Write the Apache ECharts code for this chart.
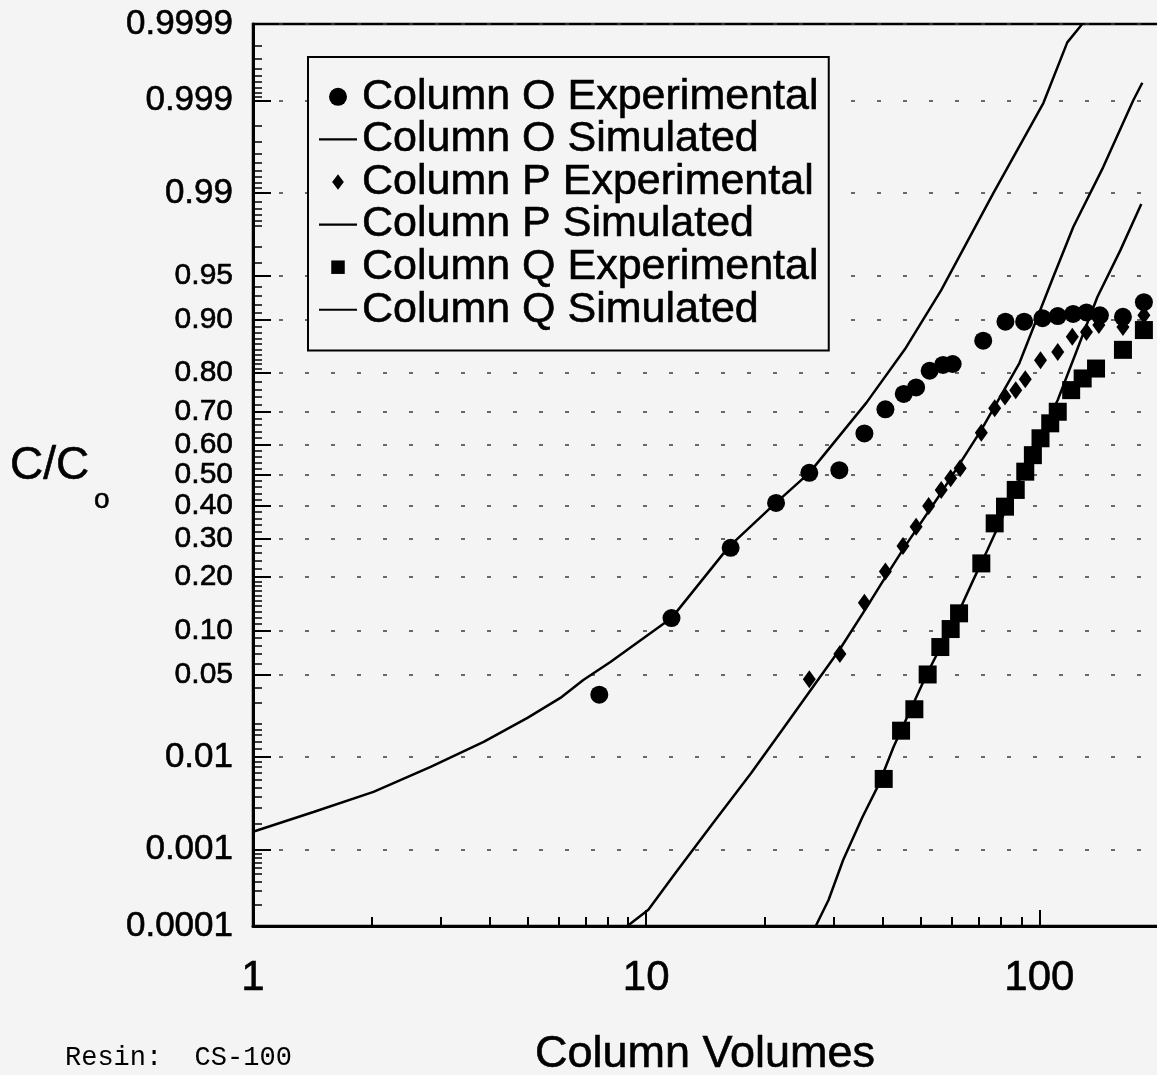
<!DOCTYPE html>
<html>
<head>
<meta charset="utf-8">
<script src="https://cdn.jsdelivr.net/npm/echarts@6.0.0/dist/echarts.min.js"></script>
<style>
  html, body { margin: 0; padding: 0; background: #f4f4f4; }
  #chart { width: 1157px; height: 1075px; }
</style>
</head>
<body>
<div id="chart"></div>
<script>
// ---- Breakthrough data: column volumes vs. C/Co ----
const oExpCV = [7.6, 11.6, 16.4, 21.4, 26.0, 31.0, 35.9, 40.6, 45.2, 48.6, 52.6, 56.9, 60.2, 72.0, 82.0, 91.5, 101.9, 111.4, 121.9, 131.8, 142.6, 163.2, 184.5];
const oExpC  = [0.035, 0.119, 0.274, 0.409, 0.507, 0.516, 0.634, 0.706, 0.748, 0.765, 0.805, 0.818, 0.820, 0.866, 0.897, 0.897, 0.902, 0.905, 0.908, 0.910, 0.906, 0.904, 0.923];

const oSimCV = [1.00, 1.425, 2.025, 2.83, 3.86, 4.99, 6.05, 6.92, 8.11, 11.6, 16.2, 21.2, 26.0, 36.3, 45.5, 56.3, 76.4, 102.4, 117.8, 128.6];
const oSimC  = [0.00163, 0.00273, 0.00449, 0.00804, 0.01387, 0.0226, 0.033, 0.0455, 0.0616, 0.119, 0.276, 0.405, 0.507, 0.724, 0.850, 0.9364, 0.98996, 0.99892, 0.99982, 0.9999];

const pExpCV = [26.0, 31.1, 35.9, 40.6, 45.0, 48.6, 52.3, 56.3, 59.5, 62.9, 71.2, 77.0, 81.8, 87.1, 92.1, 100.7, 111.4, 121.3, 131.8, 141.7, 163.2, 184.5];
const pExpC  = [0.046, 0.070, 0.146, 0.213, 0.279, 0.335, 0.399, 0.451, 0.489, 0.522, 0.636, 0.709, 0.741, 0.758, 0.785, 0.828, 0.845, 0.873, 0.881, 0.892, 0.889, 0.906];

const pSimCV = [8.96, 10.13, 11.87, 14.8, 18.5, 22.2, 26.0, 31.0, 36.3, 40.6, 45.4, 56.9, 71.2, 89.0, 108.5, 122.0, 145.4, 173.4, 182.8];
const pSimC  = [0.0001, 0.000168, 0.000517, 0.00206, 0.0070, 0.0178, 0.0368, 0.0745, 0.1365, 0.200, 0.276, 0.451, 0.645, 0.822, 0.9487, 0.9796, 0.99444, 0.99900, 0.99939];

const qExpCV = [40.2, 44.5, 48.1, 52.0, 56.0, 59.5, 62.5, 71.2, 77.0, 81.8, 87.1, 92.1, 96.3, 100.7, 106.6, 111.4, 120.5, 128.9, 139.4, 163.2, 184.5];
const qExpC  = [0.0061, 0.0175, 0.0267, 0.050, 0.078, 0.102, 0.127, 0.233, 0.345, 0.397, 0.451, 0.511, 0.565, 0.619, 0.665, 0.699, 0.758, 0.787, 0.810, 0.849, 0.884];

const qSimCV = [27.0, 29.1, 31.7, 35.5, 39.0, 42.6, 51.9, 62.2, 67.9, 73.8, 89.0, 111.4, 140.5, 160.7, 181.7];
const qSimC  = [0.0001, 0.000229, 0.00075, 0.0024, 0.0053, 0.0125, 0.0513, 0.1276, 0.193, 0.268, 0.484, 0.732, 0.929, 0.968, 0.9873];

// ---- Axis ticks ----
const xTickCV  = [1, 10, 100];
const xMinorCV = [2, 3, 4, 5, 6, 7, 8, 9, 20, 30, 40, 50, 60, 70, 80, 90, 200];
const xMaxCV   = 210;

const yTickLabels = ['0.0001', '0.001', '0.01', '0.05', '0.10', '0.20', '0.30', '0.40', '0.50',
                     '0.60', '0.70', '0.80', '0.90', '0.95', '0.99', '0.999', '0.9999'];
const yTickProbs  = [0.0001, 0.001, 0.01, 0.05, 0.10, 0.20, 0.30, 0.40, 0.50,
                     0.60, 0.70, 0.80, 0.90, 0.95, 0.99, 0.999, 0.9999];
const yLargeLabels = ['0.0001', '0.001', '0.01', '0.99', '0.999', '0.9999'];
const yMinorProbs = [
  0.0002, 0.0003, 0.0004, 0.0005, 0.0006, 0.0007, 0.0008, 0.0009,
  0.002, 0.003, 0.004, 0.005, 0.006, 0.007, 0.008, 0.009,
  0.012, 0.014, 0.016, 0.018, 0.02, 0.03, 0.04,
  0.06, 0.07, 0.08, 0.09,
  0.11, 0.12, 0.13, 0.14, 0.15, 0.16, 0.17, 0.18, 0.19,
  0.22, 0.24, 0.26, 0.28, 0.32, 0.34, 0.36, 0.38,
  0.42, 0.44, 0.46, 0.48, 0.52, 0.54, 0.56, 0.58,
  0.62, 0.64, 0.66, 0.68, 0.72, 0.74, 0.76, 0.78,
  0.81, 0.82, 0.83, 0.84, 0.85, 0.86, 0.87, 0.88, 0.89,
  0.91, 0.92, 0.93, 0.94, 0.96, 0.97, 0.98, 0.982, 0.984, 0.986, 0.988,
  0.991, 0.992, 0.993, 0.994, 0.995, 0.996, 0.997, 0.998,
  0.9991, 0.9992, 0.9993, 0.9994, 0.9995, 0.9996, 0.9997, 0.9998
];

// Inverse standard normal CDF (Acklam), used for the probability-scale axis
function probit(p) {
  const a = [-3.969683028665376e+01, 2.209460984245205e+02, -2.759285104469687e+02,
             1.383577518672690e+02, -3.066479806614716e+01, 2.506628277459239e+00];
  const b = [-5.447609879822406e+01, 1.615858368580409e+02, -1.556989798598866e+02,
             6.680131188771972e+01, -1.328068155922803e+01];
  const c = [-7.784894002430293e-03, -3.223964580411365e-01, -2.400758277161838e+00,
             -2.549732539343734e+00, 4.374664141464968e+00, 2.938163982698783e+00];
  const d = [7.784695709041462e-03, 3.224671290700398e-01, 2.445134137142996e+00,
             3.754408661907416e+00];
  const pl = 0.02425;
  let q, r;
  if (p < pl) {
    q = Math.sqrt(-2 * Math.log(p));
    return (((((c[0]*q+c[1])*q+c[2])*q+c[3])*q+c[4])*q+c[5]) / ((((d[0]*q+d[1])*q+d[2])*q+d[3])*q+1);
  }
  if (p <= 1 - pl) {
    q = p - 0.5; r = q * q;
    return (((((a[0]*r+a[1])*r+a[2])*r+a[3])*r+a[4])*r+a[5])*q / (((((b[0]*r+b[1])*r+b[2])*r+b[3])*r+b[4])*r+1);
  }
  q = Math.sqrt(-2 * Math.log(1 - p));
  return -(((((c[0]*q+c[1])*q+c[2])*q+c[3])*q+c[4])*q+c[5]) / ((((d[0]*q+d[1])*q+d[2])*q+d[3])*q+1);
}

// x: log10 of column volumes; y: normal probability of C/Co
const toPoints = (cv, c) => cv.map((v, i) => [Math.log10(v), probit(c[i])]);

const yMajorZ = yTickProbs.map(probit);
const yMinorZ = yMinorProbs.map(probit);
const yMin = yMajorZ[0];
const yMax = yMajorZ[yMajorZ.length - 1];
const xMajor = xTickCV.map(Math.log10);
const xMinor = xMinorCV.map(Math.log10);
const xMax = Math.log10(xMaxCV);

const FONT = '"Liberation Sans", Arial, Helvetica, sans-serif';
const INK = '#000';
const LINE_ICON = 'path://M0,0L40,0L40,2.2L0,2.2Z';
// slight stroke so the type reads with a heavier weight
const HEAVY = { textBorderColor: INK, textBorderWidth: 0.6 };

function yLabel(v) {
  let best = 0;
  yMajorZ.forEach((z, i) => { if (Math.abs(z - v) < Math.abs(yMajorZ[best] - v)) best = i; });
  const t = yTickLabels[best];
  return (yLargeLabels.indexOf(t) >= 0 ? '{big|' : '{mid|') + t + '}';
}

const chart = echarts.init(document.getElementById('chart'), null, { renderer: 'canvas' });

const simLine = (name, cv, c) => ({
  name, type: 'line', data: toPoints(cv, c),
  symbol: 'none', showSymbol: false, smooth: false, clip: true,
  lineStyle: { color: INK, width: 2.5 }, itemStyle: { color: INK, opacity: 1 }
});

const expScatter = (name, cv, c, symbol, size) => ({
  name, type: 'scatter', data: toPoints(cv, c),
  symbol, symbolSize: size, itemStyle: { color: INK, opacity: 1 }
});

const option = {
  animation: false,
  backgroundColor: '#f4f4f4',
  textStyle: { fontFamily: FONT, color: INK },
  grid: {
    left: 253, right: -9, top: 24, bottom: 149,
    show: true, borderColor: INK, borderWidth: 2.5, backgroundColor: 'transparent',
    outerBoundsMode: 'none', containLabel: false
  },
  legend: {
    orient: 'vertical',
    left: 308, top: 57,
    padding: [18, 10, 19, 11],
    itemWidth: 38, itemHeight: 18, itemGap: -1,
    borderColor: INK, borderWidth: 2,
    backgroundColor: '#f4f4f4',
    selectedMode: false,
    textStyle: Object.assign({ fontSize: 43, fontFamily: FONT, color: INK }, HEAVY),
    data: [
      { name: 'Column O Experimental', icon: 'circle', itemStyle: { color: INK, opacity: 1 } },
      { name: 'Column O Simulated', icon: LINE_ICON, itemStyle: { color: INK, opacity: 1 } },
      { name: 'Column P Experimental', icon: 'path://M0,0M20,20M10,1.5L16.5,10L10,18.5L3.5,10Z', itemStyle: { color: INK, opacity: 1 } },
      { name: 'Column P Simulated', icon: LINE_ICON, itemStyle: { color: INK, opacity: 1 } },
      { name: 'Column Q Experimental', icon: 'path://M0,0M20,20M2.5,2.5L17.5,2.5L17.5,17.5L2.5,17.5Z', itemStyle: { color: INK, opacity: 1 } },
      { name: 'Column Q Simulated', icon: LINE_ICON, itemStyle: { color: INK, opacity: 1 } }
    ]
  },
  xAxis: [
    {
      type: 'value', min: 0, max: xMax, position: 'bottom',
      axisLine: { show: true, onZero: false, lineStyle: { color: INK, width: 3 } },
      axisTick: { show: true, inside: true, length: 16, customValues: xMajor, lineStyle: { color: INK, width: 2 } },
      axisLabel: Object.assign({
        customValues: xMajor, margin: 31, fontSize: 42, color: INK, fontFamily: FONT,
        formatter: v => String(Math.round(Math.pow(10, v)))
      }, HEAVY),
      splitLine: { show: false }
    },
    {
      type: 'value', min: 0, max: xMax, position: 'bottom',
      axisLine: { show: false, onZero: false },
      axisTick: { show: true, inside: true, length: 9, customValues: xMinor, lineStyle: { color: INK, width: 2 } },
      axisLabel: { show: false },
      splitLine: { show: false }
    }
  ],
  yAxis: [
    {
      type: 'value', min: yMin, max: yMax, position: 'left',
      axisLine: { show: true, onZero: false, lineStyle: { color: INK, width: 3 } },
      axisTick: { show: true, inside: true, length: 18, customValues: yMajorZ, lineStyle: { color: INK, width: 2 } },
      axisLabel: {
        customValues: yMajorZ, margin: 20, color: INK, fontFamily: FONT,
        formatter: yLabel,
        rich: {
          big: Object.assign({ fontSize: 35, color: INK, fontFamily: FONT }, HEAVY),
          mid: Object.assign({ fontSize: 30, color: INK, fontFamily: FONT }, HEAVY)
        }
      },
      splitLine: { show: true, lineStyle: { color: '#3a3a3a', type: [4, 22], width: 1.5 } }
    },
    {
      type: 'value', min: yMin, max: yMax, position: 'left',
      axisLine: { show: false, onZero: false },
      axisTick: { show: true, inside: true, length: 9, customValues: yMinorZ, lineStyle: { color: INK, width: 1.5 } },
      axisLabel: { show: false },
      splitLine: { show: false }
    }
  ],
  series: [
    simLine('Column O Simulated', oSimCV, oSimC),
    simLine('Column P Simulated', pSimCV, pSimC),
    simLine('Column Q Simulated', qSimCV, qSimC),
    expScatter('Column O Experimental', oExpCV, oExpC, 'circle', 18),
    expScatter('Column P Experimental', pExpCV, pExpC, 'diamond', [13, 18]),
    expScatter('Column Q Experimental', qExpCV, qExpC, 'rect', 18)
  ],
  graphic: [
    { type: 'text', x: 10, y: 466, style: { text: 'C/C', font: '46px ' + FONT, fill: INK, stroke: INK, lineWidth: 0.6, align: 'left', verticalAlign: 'middle' } },
    { type: 'text', x: 94, y: 500, style: { text: 'o', font: '28px ' + FONT, fill: INK, stroke: INK, lineWidth: 0.6, align: 'left', verticalAlign: 'middle' } },
    { type: 'text', x: 705, y: 1055, style: { text: 'Column Volumes', font: '45px ' + FONT, fill: INK, stroke: INK, lineWidth: 0.6, align: 'center', verticalAlign: 'middle' } },
    { type: 'text', x: 65, y: 1058, style: { text: 'Resin:  CS-100', font: '27px "Liberation Mono", "DejaVu Sans Mono", monospace', fill: INK, align: 'left', verticalAlign: 'middle' } }
  ]
};

chart.setOption(option);
</script>
</body>
</html>
